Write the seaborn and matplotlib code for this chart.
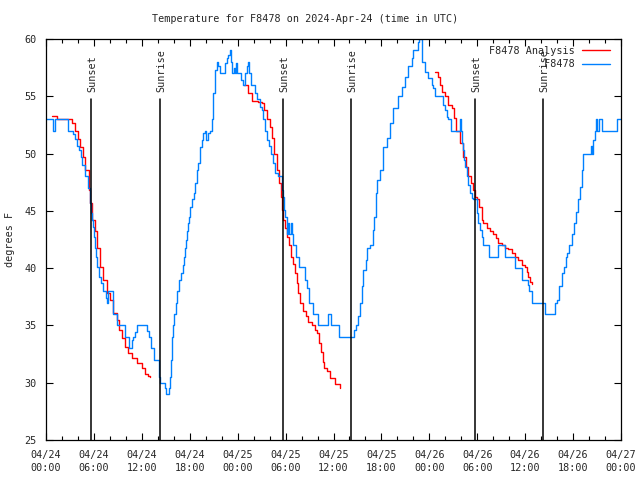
import numpy as np
import pandas as pd
import seaborn as sns
import matplotlib
matplotlib.use('Agg')
import matplotlib.pyplot as plt
import matplotlib.transforms as mtransforms

# hours since 2024-04-24 00:00 UTC, temperature in F
obs_hours = [0.00, 0.88, 1.13, 2.75, 3.38, 3.63, 3.88, 4.13, 4.38, 4.51, 4.88, 5.26, 5.51, 5.63,
             5.76, 5.89, 6.01, 6.14, 6.26, 6.39, 6.64, 6.89, 7.14, 7.51, 7.64, 7.76, 8.39, 8.89,
             9.89, 10.39, 10.77, 10.89, 11.14, 11.40, 12.65, 12.90, 13.15, 13.52, 14.15, 14.28,
             14.90, 15.03, 15.40, 15.53, 15.65, 15.78, 15.90, 16.03, 16.28, 16.40, 16.65, 16.91,
             17.16, 17.28, 17.41, 17.53, 17.66, 17.78, 17.91, 18.03, 18.28, 18.53, 18.66, 18.91,
             19.03, 19.28, 19.54, 19.66, 19.91, 20.04, 20.29, 20.54, 20.79, 20.91, 21.16, 21.41,
             21.54, 21.79, 22.29, 22.41, 22.66, 22.79, 23.04, 23.17, 23.29, 23.54, 23.67, 23.79,
             23.92, 24.42, 24.67, 24.92, 25.17, 25.29, 25.42, 25.67, 26.17, 26.42, 26.80, 27.05,
             27.17, 27.42, 27.67, 27.92, 28.17, 28.43, 28.68, 29.05, 29.51, 29.68, 29.80, 29.93,
             30.14, 30.27, 30.47, 30.64, 30.80, 30.97, 31.27, 31.72, 32.43, 32.65, 32.90, 33.47,
             34.10, 35.27, 35.65, 36.73, 38.61, 38.82, 39.11, 39.32, 39.53, 39.73, 40.03, 40.23,
             40.57, 40.91, 41.11, 41.28, 41.49, 41.82, 42.24, 42.66, 43.08, 43.49, 44.12, 44.54,
             44.95, 45.37, 45.79, 45.99, 46.62, 46.75, 47.05, 47.46, 47.87, 48.30, 48.50, 48.71,
             49.75, 49.96, 50.18, 50.38, 50.68, 51.84, 51.93, 52.13, 52.26, 52.38, 52.50, 52.68,
             52.88, 53.09, 53.31, 53.51, 53.93, 54.13, 54.35, 54.56, 54.76, 55.51, 56.64, 57.48,
             58.73, 59.64, 60.39, 60.52, 60.82, 62.48, 63.74, 64.03, 64.28, 64.58, 64.86, 65.08,
             65.28, 65.53, 65.83, 66.12, 66.37, 66.66, 66.87, 67.08, 67.28, 68.21, 68.33, 68.46,
             68.75, 68.87, 69.04, 69.28, 69.59, 71.54, 72.00]
obs_temp = [53, 52, 53, 52, 51.7, 51.3, 50.7, 50.3, 49.7, 49, 48, 47, 45.7, 44.8,
            44.2, 43.6, 42.7, 41.8, 41, 40.1, 39.2, 38.7, 38, 37.4, 37, 38, 36, 35,
            34, 33, 33.7, 34, 34.4, 35, 34.5, 34, 33, 32, 30.5, 30,
            29.5, 29, 29.5, 30.5, 32, 34, 35, 36, 37, 38, 39, 39.6,
            40.3, 41, 41.8, 42.5, 43.2, 43.9, 44.5, 45.3, 46, 46.6, 47.4, 48.6,
            49.2, 50.6, 51.2, 51.8, 52, 51.2, 51.8, 52, 53, 55.3, 57.3, 58,
            57.6, 57, 57, 57.9, 58.3, 58.6, 59, 58, 57, 57.5, 57, 57.9,
            57, 56.4, 56, 57, 57.6, 58, 57, 56, 55.3, 54.8, 54.1, 53.8,
            53, 52, 51.2, 50.7, 50, 49.2, 48.3, 48, 46.8, 46.2, 45.1, 44.5,
            43, 43.9, 43, 43.9, 43, 42, 41, 40.1, 39, 38.3, 37, 36,
            35, 36, 35, 34, 34.6, 35, 35.8, 37, 38.4, 39.8, 40.7, 41.8,
            42, 43.3, 44.5, 46.6, 47.7, 48.6, 50.6, 51.4, 52.7, 54, 55, 55.8,
            56.7, 57.6, 58.3, 59, 59.7, 60, 58, 57.1, 56.6, 56, 55.7, 55,
            54.2, 53.8, 53.2, 53, 52, 53, 52, 50.9, 50.3, 49.4, 48.8, 48,
            47.3, 46.6, 46.1, 46, 44.8, 43.9, 43.3, 42.7, 42, 41, 42, 41,
            40, 39, 38.5, 38, 37, 36, 37, 37.2, 38.4, 39.6, 40.1, 41,
            41.3, 42, 43, 43.9, 44.9, 46, 47.1, 48.6, 50, 50.7, 50, 51.2,
            52, 53, 52, 53, 52, 53, 53]

ana1_hours = [0.75, 1.38, 2.75, 3.26, 3.63, 4.01, 4.26, 4.63, 4.88, 5.38, 5.51, 5.76, 6.14, 6.39,
              6.76, 7.14, 7.64, 8.01, 8.43, 8.85, 9.18, 9.48, 9.89, 10.31, 10.73, 11.36, 11.98,
              12.40, 12.81, 13.02]
ana1_temp = [53.3, 53, 53, 52.7, 52, 51.3, 50.6, 49.7, 48.6, 46.8, 45.7, 44.2, 43.2, 41.8,
             40.1, 39, 37.8, 37.2, 36.1, 35.5, 34.6, 33.9, 33.1, 32.6, 32.2, 31.7, 31.3,
             30.8, 30.6, 30.5]
ana2_hours = [24.79, 25.29, 25.80, 26.55, 27.05, 27.30, 27.67, 28.05, 28.30, 28.55, 28.89, 29.22,
              29.39, 29.51, 29.72, 29.93, 30.22, 30.47, 30.68, 30.97, 31.18, 31.39, 31.59, 31.81,
              32.14, 32.56, 32.85, 33.27, 33.68, 33.97, 34.19, 34.40, 34.65, 34.85, 35.19, 35.56,
              36.19, 36.81]
ana2_temp = [56, 55.3, 54.6, 54.5, 54.4, 53.8, 53, 52.3, 51.4, 50, 48.6, 47.4,
             46.2, 45.1, 44.2, 43.5, 42.7, 42, 41, 40.4, 39.6, 38.7, 37.8, 37,
             36.3, 35.8, 35.3, 35, 34.6, 34.3, 33.5, 32.7, 31.8, 31.3, 31, 30.4,
             29.9, 29.5]
ana3_hours = [48.71, 49.09, 49.34, 49.59, 49.96, 50.34, 50.84, 51.09, 51.34, 51.84, 52.21, 52.59,
              52.84, 53.18, 53.51, 53.72, 54.01, 54.26, 54.56, 54.76, 55.18, 55.60, 56.01, 56.35,
              56.64, 57.06, 57.48, 57.89, 58.32, 58.73, 59.14, 59.57, 59.98, 60.19, 60.39, 60.61,
              60.82]
ana3_temp = [57.1, 56.7, 56, 55.4, 55, 54.2, 54, 53.1, 52, 50.9, 49.7, 48.8,
             48, 47.4, 46.8, 46.2, 46, 45.3, 44.2, 43.9, 43.5, 43.2, 43, 42.6,
             42.2, 42, 41.8, 41.7, 41.3, 41, 40.7, 40.3, 40.1, 39.7, 39.2, 38.8,
             38.6]

sun_hours = [5.64, 14.28, 29.72, 38.23, 53.76, 62.20]
sun_labels = ['Sunset', 'Sunrise', 'Sunset', 'Sunrise', 'Sunset', 'Sunrise']

tick_hours = list(range(0, 73, 6))
tick_labels = ['04/24\n00:00', '04/24\n06:00', '04/24\n12:00', '04/24\n18:00',
               '04/25\n00:00', '04/25\n06:00', '04/25\n12:00', '04/25\n18:00',
               '04/26\n00:00', '04/26\n06:00', '04/26\n12:00', '04/26\n18:00',
               '04/27\n00:00']

sns.set_style('ticks')
plt.rcParams['font.family'] = ['DejaVu Sans Mono']
plt.rcParams['font.size'] = 7.3

fig = plt.figure(figsize=(6.4, 4.8), dpi=100)
ax = fig.add_axes([46 / 640, 40 / 480, 575 / 640, 401 / 480])

ana = pd.concat([
    pd.DataFrame({'hours': ana1_hours, 'temp': ana1_temp, 'run': 1}),
    pd.DataFrame({'hours': ana2_hours, 'temp': ana2_temp, 'run': 2}),
    pd.DataFrame({'hours': ana3_hours, 'temp': ana3_temp, 'run': 3}),
])
obs = pd.DataFrame({'hours': obs_hours, 'temp': obs_temp})

# labels padded to equal length so the monospace legend text lines up on the right
first = True
for run, grp in ana.groupby('run'):
    sns.lineplot(data=grp, x='hours', y='temp', ax=ax, color='#ff0000', lw=1.0,
                 drawstyle='steps-post', estimator=None, sort=False,
                 label='F8478 Analysis' if first else None)
    first = False
sns.lineplot(data=obs, x='hours', y='temp', ax=ax, color='#0080ff', lw=1.0,
             drawstyle='steps-post', estimator=None, sort=False,
             label='F8478'.rjust(len('F8478 Analysis')))

trans = mtransforms.blended_transform_factory(ax.transData, ax.transAxes)
for h, lab in zip(sun_hours, sun_labels):
    ax.axvline(h, ymin=0, ymax=0.85, color='black', lw=1.1)
    ax.text(h + 0.15, 0.868, lab, rotation=90, ha='center', va='bottom', transform=trans)

ax.set_xlim(0, 72)
ax.set_ylim(25, 60)
ax.set_xticks(tick_hours)
ax.set_xticklabels(tick_labels, linespacing=1.35)
ax.set_xticks(np.arange(0, 73, 2), minor=True)
ax.set_yticks(range(25, 61, 5))
ax.tick_params(which='both', direction='in', top=True, right=True, color='black', width=0.8)
ax.tick_params(which='major', length=5, pad=7)
ax.tick_params(which='minor', length=3)
for s in ax.spines.values():
    s.set_linewidth(0.9)
    s.set_color('black')
ax.set_xlabel('')
ax.set_ylabel('')

fig.text(10 / 640, 0.501, 'degrees F', rotation=90, ha='center', va='center')
fig.text(305 / 640, 1 - 19 / 480, 'Temperature for F8478 on 2024-Apr-24 (time in UTC)',
         ha='center', va='center')

leg = ax.legend(loc='upper right', bbox_to_anchor=(0.9843, 0.9875), frameon=False,
                markerfirst=False, handlelength=2.8, handletextpad=0.7, labelspacing=0.3,
                borderaxespad=0.0, borderpad=0.2)

fig.savefig('out.png', dpi=100)
